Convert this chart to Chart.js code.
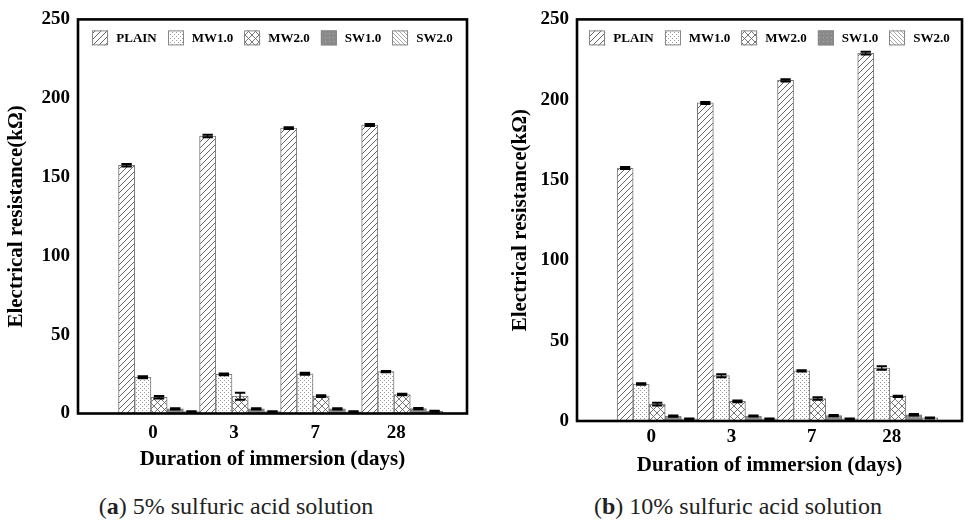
<!DOCTYPE html>
<html><head><meta charset="utf-8">
<script src="https://cdn.jsdelivr.net/npm/chart.js@4.4.1/dist/chart.umd.min.js"></script>
<style>
html,body{margin:0;padding:0;background:#fff;}
#wrap{position:relative;width:964px;height:521px;overflow:hidden;background:#fff;}
.cv{position:absolute;top:0;width:482px;height:480px;}
.cv canvas{display:block;}
.cap{position:absolute;top:494px;font-family:"Liberation Serif",serif;font-size:24px;line-height:24px;color:#222;white-space:nowrap;transform:translateX(-50%);}
</style></head><body>
<div id="wrap">
<div class="cv" style="left:0"><canvas id="c1" width="482" height="480"></canvas></div>
<div class="cv" style="left:482px"><canvas id="c2" width="482" height="480"></canvas></div>
<div class="cap" style="left:236px">(<b>a</b>) 5% sulfuric acid solution</div>
<div class="cap" style="left:738px">(<b>b</b>) 10% sulfuric acid solution</div>
</div>
<script>
// ---- data ----
const days = ['0', '3', '7', '28'];
const seriesNames = ['PLAIN', 'MW1.0', 'MW2.0', 'SW1.0', 'SW2.0'];
const yTicks = [0, 50, 100, 150, 200, 250];
const yTitle = 'Electrical resistance(kΩ)';
const xTitle = 'Duration of immersion (days)';

// (a) 5% sulfuric acid solution
const a_plain = [157.5, 176, 181, 183];
const a_mw1 = [23, 24.8, 25.2, 26.6];
const a_mw2 = [10.3, 11, 11, 12];
const a_sw1 = [3, 3, 3, 3.1];
const a_sw2 = [1.2, 1.2, 1.1, 1.4];
const a_plain_err = [0.8, 0.8, 0.6, 0.6];
const a_mw1_err = [0.6, 0.5, 0.6, 0.4];
const a_mw2_err = [0.8, 2.2, 0.6, 0.5];
const a_sw1_err = [0.4, 0.4, 0.4, 0.4];
const a_sw2_err = [0.3, 0.3, 0.3, 0.3];

// (b) 10% sulfuric acid solution
const b_plain = [157.5, 198, 212, 229];
const b_mw1 = [23, 28.2, 31.2, 33];
const b_mw2 = [10.5, 12.2, 14, 15.3];
const b_sw1 = [3, 3.1, 3.3, 3.9];
const b_sw2 = [1.3, 1.3, 1.3, 1.9];
const b_plain_err = [0.6, 0.6, 0.7, 0.8];
const b_mw1_err = [0.5, 0.9, 0.4, 1.1];
const b_mw2_err = [0.8, 0.5, 0.8, 0.4];
const b_sw1_err = [0.4, 0.3, 0.4, 0.4];
const b_sw2_err = [0.3, 0.3, 0.3, 0.3];

// ---- patterns ----
function makePattern(kind) {
  const c = document.createElement('canvas');
  const g = c.getContext('2d');
  let s;
  if (kind === 'fwd') {
    s = 6; c.width = c.height = s;
    g.fillStyle = '#fff'; g.fillRect(0, 0, s, s);
    g.strokeStyle = '#555'; g.lineWidth = 0.9;
    g.beginPath();
    g.moveTo(0, s); g.lineTo(s, 0);
    g.moveTo(-1, 1); g.lineTo(1, -1);
    g.moveTo(s - 1, s + 1); g.lineTo(s + 1, s - 1);
    g.stroke();
  } else if (kind === 'dots') {
    s = 4; c.width = c.height = s;
    g.fillStyle = '#fff'; g.fillRect(0, 0, s, s);
    g.fillStyle = '#9a9a9a';
    g.fillRect(0, 0, 1, 1); g.fillRect(2, 2, 1, 1);
  } else if (kind === 'cross') {
    s = 7; c.width = c.height = s;
    g.fillStyle = '#fff'; g.fillRect(0, 0, s, s);
    g.strokeStyle = '#666'; g.lineWidth = 0.9;
    g.beginPath();
    g.moveTo(0, s); g.lineTo(s, 0);
    g.moveTo(-1, 1); g.lineTo(1, -1);
    g.moveTo(s - 1, s + 1); g.lineTo(s + 1, s - 1);
    g.moveTo(0, 0); g.lineTo(s, s);
    g.moveTo(-1, s - 1); g.lineTo(1, s + 1);
    g.moveTo(s - 1, -1); g.lineTo(s + 1, 1);
    g.stroke();
  } else if (kind === 'grey') {
    s = 4; c.width = c.height = s;
    g.fillStyle = '#8a8a8a'; g.fillRect(0, 0, s, s);
    g.fillStyle = '#a6a6a6'; g.fillRect(1, 1, 1, 1);
  } else {
    s = 4; c.width = c.height = s;
    g.fillStyle = '#fff'; g.fillRect(0, 0, s, s);
    g.strokeStyle = '#a0a0a0'; g.lineWidth = 0.9;
    g.beginPath();
    g.moveTo(0, 0); g.lineTo(s, s);
    g.moveTo(-1, s - 1); g.lineTo(1, s + 1);
    g.moveTo(s - 1, -1); g.lineTo(s + 1, 1);
    g.stroke();
  }
  return g.createPattern(c, 'repeat');
}
const fills = ['fwd', 'dots', 'cross', 'grey', 'back'].map(makePattern);

const FONT = '"Liberation Serif", "Times New Roman", serif';

const errPlugin = {
  id: 'errbars',
  afterDatasetsDraw(chart) {
    const ctx = chart.ctx, y = chart.scales.y;
    chart.data.datasets.forEach((ds, di) => {
      const meta = chart.getDatasetMeta(di);
      meta.data.forEach((bar, i) => {
        const v = ds.data[i].y, e = ds.err[i];
        const yt = y.getPixelForValue(v + e), yb = y.getPixelForValue(v - e);
        const hw = bar.width * 0.32;
        ctx.save();
        ctx.strokeStyle = '#000';
        ctx.lineWidth = 1.2;
        ctx.beginPath(); ctx.moveTo(bar.x, yt); ctx.lineTo(bar.x, yb); ctx.stroke();
        ctx.lineWidth = 2;
        ctx.beginPath();
        ctx.moveTo(bar.x - hw, yt); ctx.lineTo(bar.x + hw, yt);
        ctx.moveTo(bar.x - hw, yb); ctx.lineTo(bar.x + hw, yb);
        ctx.stroke();
        ctx.restore();
      });
    });
  }
};

const framePlugin = {
  id: 'frame',
  afterDatasetsDraw(chart) {
    const {ctx, chartArea: a} = chart;
    ctx.save();
    ctx.strokeStyle = '#000';
    ctx.lineWidth = 2.6;
    ctx.strokeRect(a.left, a.top, a.right - a.left, a.bottom - a.top);
    ctx.restore();
  }
};

const legendPlugin = {
  id: 'insideLegend',
  afterDraw(chart) {
    const {ctx, chartArea: a} = chart;
    ctx.save();
    ctx.font = 'bold 13px ' + FONT;
    const bw = 16, bh = 15, gap = 8, pad = 11;
    const items = chart.data.datasets.map(d => ({d, w: bw + gap + ctx.measureText(d.label).width}));
    const total = items.reduce((s, it) => s + it.w, 0) + pad * (items.length - 1);
    let x = (a.left + a.right) / 2 - total / 2;
    const yy = a.top + 11;
    items.forEach(it => {
      ctx.fillStyle = it.d.backgroundColor;
      ctx.fillRect(x, yy, bw, bh);
      ctx.strokeStyle = '#888'; ctx.lineWidth = 1;
      ctx.strokeRect(Math.round(x) + 0.5, yy + 0.5, bw - 1, bh - 1);
      ctx.fillStyle = '#000';
      ctx.textBaseline = 'middle';
      ctx.textAlign = 'left';
      ctx.fillText(it.d.label, x + bw + gap, yy + bh / 2 + 0.5);
      x += it.w + pad;
    });
    ctx.restore();
  }
};

function build(id, series, errs, cfg) {
  const datasets = series.map((vals, k) => ({
    label: seriesNames[k],
    data: vals.map((v, i) => ({x: i, y: v})),
    err: errs[k],
    backgroundColor: fills[k],
    borderColor: '#777',
    borderWidth: 1,
    categoryPercentage: 1,
    barPercentage: 1
  }));
  return new Chart(document.getElementById(id), {
    type: 'bar',
    data: {datasets},
    options: {
      responsive: false,
      animation: false,
      events: [],
      layout: {padding: {top: 16, right: cfg.right, left: 0, bottom: 0}},
      plugins: {legend: {display: false}, tooltip: {enabled: false}},
      scales: {
        x: {
          type: 'linear', min: -1, max: 3.8, offset: false,
          grid: {display: false, drawTicks: false, tickLength: 0, offset: false},
          border: {display: false},
          afterBuildTicks: s => { s.ticks = days.map((d, i) => ({value: i})); },
          afterFit: s => { s.height = cfg.xh; },
          ticks: {
            callback: v => days[v], color: '#000', padding: cfg.xp, labelOffset: -6,
            autoSkip: false, maxRotation: 0, font: {family: FONT, size: 19, weight: 'bold'}
          },
          title: {display: true, text: xTitle, color: '#000',
            font: {family: FONT, size: 21, weight: 'bold'}, padding: {top: 0, bottom: cfg.tb}}
        },
        y: {
          min: 0, max: 250,
          afterBuildTicks: s => { s.ticks = yTicks.map(v => ({value: v})); },
          afterFit: s => { s.width = cfg.yw; },
          grid: {display: false, drawTicks: false, tickLength: 0},
          border: {display: false},
          ticks: {color: '#000', padding: 8, font: {family: FONT, size: 19, weight: 'bold'}},
          title: {display: true, text: yTitle, color: '#000',
            font: {family: FONT, size: 21, weight: 'bold'}, padding: {top: cfg.tp, bottom: 0}}
        }
      }
    },
    plugins: [errPlugin, framePlugin, legendPlugin]
  });
}

build('c1', [a_plain, a_mw1, a_mw2, a_sw1, a_sw2],
  [a_plain_err, a_mw1_err, a_mw2_err, a_sw1_err, a_sw2_err],
  {right: 15, xh: 66.5, xp: 8.6, tb: 7.4, yw: 78, tp: 4.4});
build('c2', [b_plain, b_mw1, b_mw2, b_sw1, b_sw2],
  [b_plain_err, b_mw1_err, b_mw2_err, b_sw1_err, b_sw2_err],
  {right: 2, xh: 59, xp: 4.9, tb: 1.4, yw: 95, tp: 25.9});
</script>
</body></html>
